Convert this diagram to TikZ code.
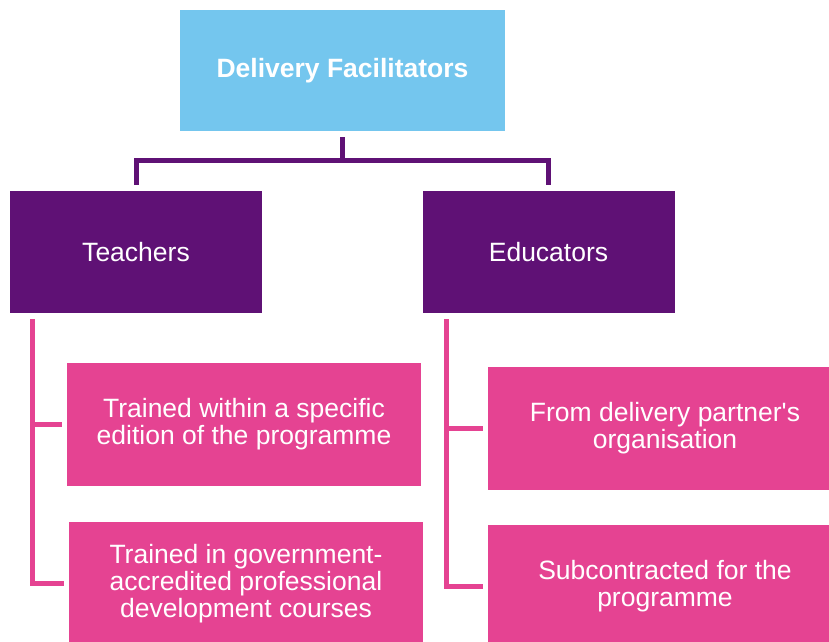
\documentclass[tikz,border=0pt]{standalone}
\usepackage{fontspec}
\setmainfont{Liberation Sans}
\definecolor{topblue}{HTML}{74C6EE}
\definecolor{darkpurple}{HTML}{5F1175}
\definecolor{rosepink}{HTML}{E54392}
\tikzset{
  headbox/.style={fill=topblue,text=white,minimum width=325pt,minimum height=121pt,font=\fontsize{26.5}{27}\selectfont\bfseries},
  groupbox/.style={fill=darkpurple,text=white,minimum width=252pt,minimum height=122pt,font=\fontsize{26.5}{27}\selectfont},
  itembox/.style={fill=rosepink,text=white,minimum width=354pt,minimum height=123pt,align=center,font=\fontsize{26.5}{27}\selectfont},
  purpletree/.style={draw=darkpurple,line width=5pt},
  pinktree/.style={draw=rosepink,line width=5pt}
}
\begin{document}
\begin{tikzpicture}[x=1pt,y=-1pt]
\useasboundingbox (0,0) rectangle (829,641);
\clip (0,0) rectangle (829,641);
\node[headbox](top) at(342.5,70.5) {Delivery Facilitators};
\node[groupbox](teach) at(136,252) {Teachers};
\node[groupbox](edu) at(548.5,252) {Educators};
\node[itembox](t1) at(244,424.5) {Trained within a specific\\edition of the programme};
\node[itembox](t2) at(246,583.5) {Trained in government-\\accredited professional\\development courses};
\node[itembox](e1) at(665,428.5) {From delivery partner\textquotesingle s\\organisation};
\node[itembox](e2) at(665,586.5) {Subcontracted for the\\programme};
% purple branches
\coordinate (hub) at(342.5,160);
\draw[purpletree] ([yshift=-6pt]top.south)--(hub)-|([yshift=6pt]teach.north);
\draw[purpletree] (hub)-|([yshift=6pt]edu.north);
% pink branches
\coordinate (tl) at([xshift=23pt,yshift=-6pt]teach.south west);
\coordinate (el) at([xshift=24pt,yshift=-6pt]edu.south west);
\draw[pinktree] (tl)|-([xshift=-5pt]t2.west);
\draw[pinktree] (tl|-t1.west)--([xshift=-5pt]t1.west);
\draw[pinktree] (el)|-([xshift=-5pt]e2.west);
\draw[pinktree] (el|-e1.west)--([xshift=-5pt]e1.west);
\end{tikzpicture}
\end{document}
